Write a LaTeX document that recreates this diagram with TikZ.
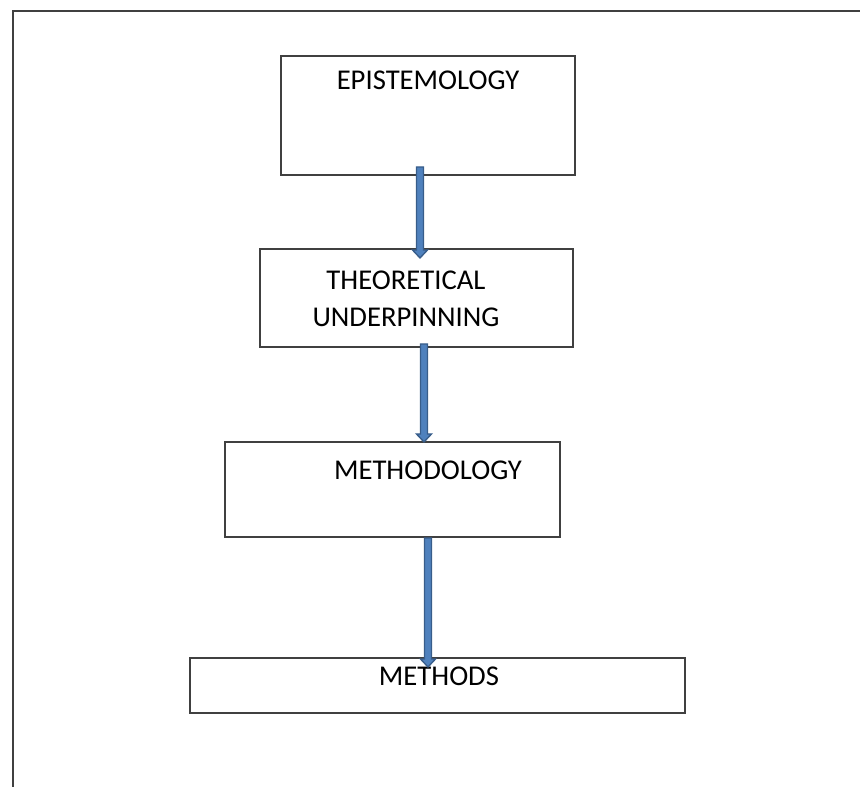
\documentclass[tikz,border=0pt]{standalone}
\usepackage{fontspec}
\setmainfont{Carlito}
\usepackage{tikz}
\usetikzlibrary{calc}
\definecolor{arrowfill}{HTML}{4F81BD}
\definecolor{arrowedge}{HTML}{385D8A}
\definecolor{framegray}{HTML}{404040}

\tikzset{
  box/.style={draw=framegray, line width=1.5pt, rectangle, inner sep=0pt},
  lbl/.style={font=\fontsize{21.5}{27.75}\selectfont, align=center, inner sep=0pt},
  arrowbody/.style={fill=arrowfill, draw=arrowedge, line width=1pt, line join=miter}
}
% block arrow from #1 down to its tip at #2
\newcommand{\flowarrow}[2]{%
  \filldraw[arrowbody] ($(#1)+(-3.5,0)$) -- ($(#2)+(-3.5,-8)$) -- ($(#2)+(-7.5,-8)$)
    -- (#2) -- ($(#2)+(7.5,-8)$) -- ($(#2)+(3.5,-8)$) -- ($(#1)+(3.5,0)$) -- cycle;}

\begin{document}
\begin{tikzpicture}[x=0.75pt, y=-0.75pt]
  \useasboundingbox (0,0) rectangle (860,787);

  %% Outer frame (open at right and bottom)
  \draw[framegray, line width=1.5pt] (13,787) -- (13,11) -- (860,11);

  %% Boxes
  \node[box, minimum width=294*0.75pt, minimum height=119*0.75pt] (epi)   at (428,115.5) {};
  \node[box, minimum width=313*0.75pt, minimum height=98*0.75pt]  (theo)  at (416.5,298) {};
  \node[box, minimum width=335*0.75pt, minimum height=95*0.75pt]  (meth)  at (392.5,489.5) {};
  \node[box, minimum width=495*0.75pt, minimum height=55*0.75pt]  (mtds)  at (437.5,685.5) {};

  %% Labels
  \node[lbl] (epitext)  at (428,80)  {EPISTEMOLOGY};
  \node[lbl] (theotext) at (406,299) {THEORETICAL\\UNDERPINNING};
  \node[lbl] (methtext) at (428,470) {METHODOLOGY};
  \node[lbl] (mtdstext) at (439,676) {METHODS};

  %% Arrows
  \coordinate (a1s) at (420,167);  \coordinate (a1e) at (420,258);
  \coordinate (a2s) at (424,344);  \coordinate (a2e) at (424,442);
  \coordinate (a3s) at (428,538);  \coordinate (a3e) at (428,667);
  \flowarrow{a1s}{a1e}
  \flowarrow{a2s}{a2e}
  \flowarrow{a3s}{a3e}
\end{tikzpicture}
\end{document}
